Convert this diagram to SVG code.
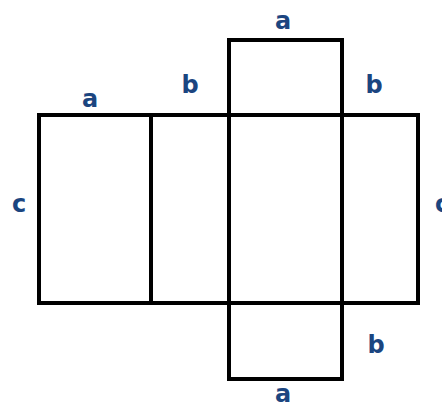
<svg xmlns="http://www.w3.org/2000/svg" width="442" height="405" viewBox="0 0 442 405">
<style>
.f{fill:none;stroke:#000;stroke-width:4;stroke-linecap:square}
.t{font-family:"DejaVu Sans",Verdana,sans-serif;font-weight:bold;font-size:24px;fill:#1b4580;text-anchor:middle}
</style>
<rect width="442" height="405" fill="#fff"/>
<g id="faces">
<rect id="face-left" class="f" x="39" y="115" width="112" height="188"/>
<rect id="face-b1" class="f" x="151" y="115" width="78" height="188"/>
<rect id="face-center" class="f" x="229" y="115" width="113" height="188"/>
<rect id="face-b2" class="f" x="342" y="115" width="76" height="188"/>
<rect id="face-top" class="f" x="229" y="40" width="113" height="75"/>
<rect id="face-bottom" class="f" x="229" y="303" width="113" height="76"/>
</g>
<g id="labels">
<text class="t" x="283" y="29">a</text>
<text class="t" x="90" y="107">a</text>
<text class="t" x="190" y="93">b</text>
<text class="t" x="374" y="93">b</text>
<text class="t" x="19" y="212">c</text>
<text class="t" x="442" y="212">c</text>
<text class="t" x="376" y="353">b</text>
<text class="t" x="283" y="402">a</text>
</g>
</svg>
